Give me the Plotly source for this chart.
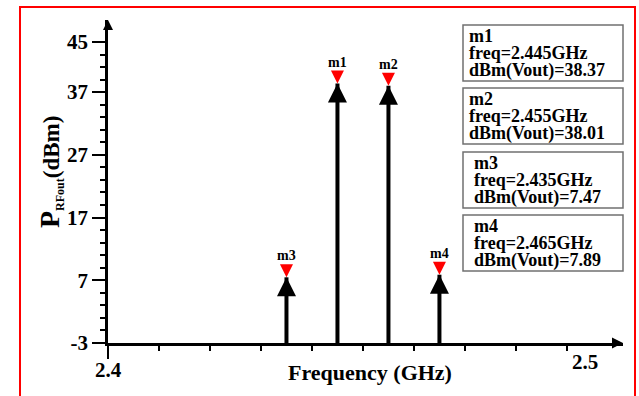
import plotly.graph_objects as go

# Marker readouts of the output spectrum
markers = ["m1", "m2", "m3", "m4"]
freq_ghz = [2.445, 2.455, 2.435, 2.465]
dbm_vout = [38.37, 38.01, 7.47, 7.89]

# Axis ticks
y_ticks = [-3, 7, 17, 27, 37, 45]
y_ticktext = ["-3", "7", "17", "27", "37", "45"]
y_minor = [-1, 1, 3, 5, 9, 11, 13, 15, 19, 21, 23, 25, 29, 31, 33, 35, 39, 41, 43]
x_ticks = [2.4]
x_minor = [2.41, 2.42, 2.43, 2.44, 2.45, 2.46, 2.47, 2.48, 2.49]
x_start_label = "2.4"
x_end_label = "2.5"

X_RANGE = [2.4, 2.501]
Y_RANGE = [-3, 48.5]

FIG_W, FIG_H = 639, 396
L, R, T, B = 108, 16, 20, 53
PW = FIG_W - L - R
PH = FIG_H - T - B

FONT = "Liberation Serif"


def px(p):
    return (p - L) / PW


def py(p):
    return (FIG_H - B - p) / PH


def bold(size):
    return dict(family=FONT, size=size, color="black", weight="bold")


fig = go.Figure()

# Stems from the axis floor up to each marker level
sx, sy = [], []
for f, v in zip(freq_ghz, dbm_vout):
    sx += [f, f, None]
    sy += [Y_RANGE[0], v, None]
fig.add_trace(go.Scatter(x=sx, y=sy, mode="lines",
                         line=dict(color="black", width=4),
                         hoverinfo="skip", cliponaxis=False))

# Black arrowheads on the stems
fig.add_trace(go.Scatter(x=freq_ghz, y=dbm_vout, mode="markers",
                         marker=dict(symbol="arrow-up", size=19, color="black",
                                     line=dict(width=0)),
                         cliponaxis=False, hoverinfo="skip"))
# Red marker triangles
fig.add_trace(go.Scatter(x=freq_ghz, y=dbm_vout, mode="markers",
                         marker=dict(symbol="arrow-down", size=13, color="#ff0000",
                                     line=dict(width=0)),
                         cliponaxis=False, hoverinfo="skip"))

# Axis arrowheads
fig.add_trace(go.Scatter(x=[X_RANGE[0]], y=[Y_RANGE[1]], mode="markers",
                         marker=dict(symbol="arrow-up", size=10, color="black",
                                     line=dict(width=0)),
                         cliponaxis=False, hoverinfo="skip"))
fig.add_trace(go.Scatter(x=[X_RANGE[1]], y=[Y_RANGE[0]], mode="markers",
                         marker=dict(symbol="arrow-right", size=11, color="black",
                                     line=dict(width=0)),
                         cliponaxis=False, hoverinfo="skip"))

annotations = []
shapes = []

# Marker names above the red triangles
for name, f, v in zip(markers, freq_ghz, dbm_vout):
    annotations.append(dict(x=f, y=v, xref="x", yref="y", text=name,
                            showarrow=False, yanchor="bottom", yshift=12,
                            font=bold(14)))

# Readout boxes
box_tops = [25, 88, 152, 215]
box_h = 56
text_x = [467, 467, 472, 472]
for i, (name, f, v) in enumerate(zip(markers, freq_ghz, dbm_vout)):
    top = box_tops[i]
    shapes.append(dict(type="rect", xref="paper", yref="paper",
                       x0=px(463), x1=px(623), y0=py(top), y1=py(top + box_h),
                       line=dict(color="#707070", width=1.5),
                       fillcolor="white", layer="below"))
    lines = [name, f"freq={f:.3f}GHz", f"dBm(Vout)={v:.2f}"]
    for j, t in enumerate(lines):
        annotations.append(dict(x=px(text_x[i]), y=py(top + 11 + 17 * j),
                                xref="paper", yref="paper", text=t,
                                showarrow=False, xanchor="left", yanchor="middle",
                                font=bold(18)))

# Frequency axis end labels
annotations.append(dict(x=X_RANGE[0], y=py(370), xref="x", yref="paper",
                        text=x_start_label, showarrow=False, xanchor="center",
                        yanchor="middle", font=bold(21)))
annotations.append(dict(x=X_RANGE[1], y=py(362), xref="x", yref="paper",
                        text=x_end_label, showarrow=False, xanchor="center",
                        yanchor="middle", xshift=-38, font=bold(21)))

# Axis titles
annotations.append(dict(x=px(370), y=py(372), xref="paper", yref="paper",
                        text="Frequency (GHz)", showarrow=False,
                        xanchor="center", yanchor="middle", font=bold(22)))
annotations.append(dict(x=px(50), y=py(172), xref="paper", yref="paper",
                        text='<span style="font-size:28px">P</span>'
                             '<sub><span style="font-size:12px">RFout</span></sub>'
                             '(dBm)',
                        textangle=-90, showarrow=False,
                        xanchor="center", yanchor="middle", font=bold(23)))

# Red frame
shapes.append(dict(type="rect", xref="paper", yref="paper",
                   x0=px(20), x1=px(635), y0=py(7), y1=py(400),
                   line=dict(color="#ff0000", width=2), layer="below"))

fig.update_layout(
    width=FIG_W, height=FIG_H,
    margin=dict(l=L, r=R, t=T, b=B, autoexpand=False),
    paper_bgcolor="white", plot_bgcolor="white",
    showlegend=False,
    annotations=annotations,
    shapes=shapes,
    xaxis=dict(range=X_RANGE, showgrid=False, zeroline=False, automargin=False,
               showline=True, linecolor="black", linewidth=2.5,
               tickvals=x_ticks, showticklabels=False, ticks="outside",
               ticklen=13, tickwidth=2, tickcolor="black",
               minor=dict(tickvals=x_minor, ticks="outside", ticklen=5,
                          tickwidth=1.5, tickcolor="black")),
    yaxis=dict(range=Y_RANGE, showgrid=False, zeroline=False, automargin=False,
               showline=True, linecolor="black", linewidth=2.5,
               tickvals=y_ticks, ticktext=y_ticktext, ticks="outside",
               ticklen=13, tickwidth=2, tickcolor="black", tickfont=bold(21),
               minor=dict(tickvals=y_minor, ticks="outside", ticklen=5,
                          tickwidth=1.5, tickcolor="black")),
)

fig.write_html("out.html")
